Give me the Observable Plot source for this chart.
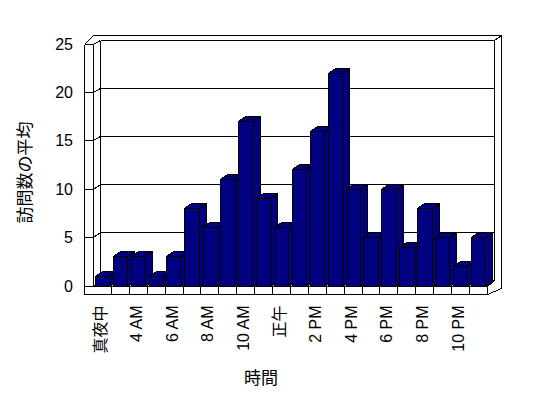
<!DOCTYPE html>
<html><head><meta charset="utf-8">
<script src="https://cdn.jsdelivr.net/npm/d3@7"></script>
<script src="https://cdn.jsdelivr.net/npm/@observablehq/plot@0.6"></script>
<style>body{margin:0;background:#fff}</style>
</head><body><div id="chart"></div>
<script>
// ---- data ----
const hours = ["真夜中","1 AM","4 AM","5 AM","6 AM","7 AM","8 AM","9 AM","10 AM","11 AM","正午","1 PM","2 PM","3 PM","4 PM","5 PM","6 PM","7 PM","8 PM","9 PM","10 PM","11 PM"];
const visits = [1,3,3,1,3,8,6,11,17,9,6,12,16,22,10,5,10,4,8,5,2,5];
const yTicks = [0,5,10,15,20,25];
const xTickLabels = ["真夜中","4 AM","6 AM","8 AM","10 AM","正午","2 PM","4 PM","6 PM","8 PM","10 PM"];
const yTitle = "訪問数の平均";
const xTitle = "時間";

// ---- 3D look parameters ----
const DX = 7.4, DY = 6;          // chart depth
const KB = 0.99;                  // perspective shrink of back wall
const WALL_T = 8.6, FLOOR_T = 8;  // wall/floor thickness
const BACK_TX = 7, BACK_TY = 4.5; // back wall thickness
const BAR_INSET = 1.9, BAR_W = 14.4, BAR_DX = 6.5, BAR_DY = 4.8;
const BAR_FILL = "#000080";

const px = v => Math.round(v - 0.5) + 0.5;

function frame3d(index, scales) {
  const {x, y} = scales;
  const bw = x(hours[1]) - x(hours[0]);
  const xL = x(hours[0]), xR = x(hours[hours.length - 1]) + bw;
  const y0 = y(0), yT = y(yTicks[yTicks.length - 1]);
  const yb = v => y0 - DY + (y(v) - y0) * KB;
  const segs = [];
  const L = (a, b, c, d) => segs.push([a, b, c, d]);
  const xo = xL - WALL_T;
  // floor front strip
  L(xo, yT, xo, y0 + FLOOR_T);
  L(xo, y0 + FLOOR_T, xR, y0 + FLOOR_T);
  L(xo, y0, xR, y0);
  L(xR, y0, xR, y0 + FLOOR_T);
  for (let k = 1; k < hours.length; k++) L(xL + k * bw, y0, xL + k * bw, y0 + FLOOR_T);
  // left wall thickness face
  L(xL, yT, xL, y0);
  L(xo, yT, xL, yT);
  yTicks.slice(1, -1).forEach(v => L(xo, y(v), xL, y(v)));
  // left wall inner plane
  yTicks.forEach(v => L(xL, y(v), xL + DX, yb(v)));
  L(xL + DX, yb(25), xL + DX, yb(0));
  // back wall gridlines + edges
  yTicks.forEach(v => L(xL + DX, yb(v), xR + DX, yb(v)));
  L(xR + DX, yb(25), xR + DX, yb(0));
  L(xR, y0, xR + DX, yb(0));
  // outer thickness of walls
  const oxL = xo + DX + 1.2, oyT = yb(25) - BACK_TY, oxR = xR + DX + BACK_TX;
  L(xo, yT, oxL, oyT);
  L(oxL, oyT, oxR, oyT);
  L(xR + DX, yb(25), oxR, oyT);
  L(oxR, oyT, oxR, y0 + 2);
  L(xR, y0 + FLOOR_T, oxR, y0 + 2);
  const g = d3.create("svg:g").attr("fill", "none").attr("stroke", "black")
    .attr("stroke-width", 1).attr("shape-rendering", "crispEdges");
  g.selectAll("line").data(segs).join("line")
    .attr("x1", d => px(d[0])).attr("y1", d => px(d[1]))
    .attr("x2", d => px(d[2])).attr("y2", d => px(d[3]));
  return g.node();
}

function bars3d(index, scales) {
  const {x, y} = scales;
  const g = d3.create("svg:g").attr("fill", BAR_FILL).attr("stroke", "black")
    .attr("stroke-width", 1).attr("stroke-linejoin", "miter").attr("shape-rendering", "crispEdges");
  const yb = px(y(0));
  visits.forEach((v, i) => {
    const x0 = px(x(hours[i]) + BAR_INSET), x1 = px(x(hours[i]) + BAR_INSET + BAR_W);
    const yt = px(y(v));
    const ddx = Math.round(BAR_DX), ddy = Math.round(BAR_DY);
    const pts = a => a.map(p => p.join(",")).join(" ");
    g.append("polygon").attr("points", pts([[x1, yb], [x1, yt], [x1 + ddx, yt - ddy], [x1 + ddx, yb - ddy]]));
    g.append("polygon").attr("points", pts([[x0, yt], [x1, yt], [x1 + ddx, yt - ddy], [x0 + ddx, yt - ddy]]));
    g.append("rect").attr("x", x0).attr("y", yt).attr("width", x1 - x0).attr("height", yb - yt);
  });
  return g.node();
}

const shown = new Set(xTickLabels);
const chart = Plot.plot({
  width: 548,
  height: 398,
  marginLeft: 93.5,
  marginRight: 60.7,
  marginTop: 44,
  marginBottom: 112,
  style: {fontFamily: "'Liberation Sans', Arial, 'Noto Sans CJK JP', sans-serif", fontSize: "16px", background: "white", color: "black"},
  x: {type: "band", domain: hours, padding: 0, round: false, label: null},
  y: {domain: [0, 25], label: null},
  marks: [
    frame3d,
    bars3d,
    Plot.axisY({ticks: yTicks, anchor: "left", tickSize: 0, tickPadding: 21, fontSize: 16, fill: "black", label: null}),
    Plot.axisX({ticks: xTickLabels, tickFormat: d => shown.has(d) ? d : "", tickRotate: -90, tickSize: 0, tickPadding: 19, fontSize: 16, fill: "black", label: null, dx: -2}),
    Plot.text([yTitle], {text: d => d, frameAnchor: "left", dx: -68, dy: 7, rotate: -90, textAnchor: "middle", lineAnchor: "middle", fontSize: 17, fill: "black"}),
    Plot.text([xTitle], {text: d => d, frameAnchor: "bottom", dx: -30, dy: 92, textAnchor: "middle", lineAnchor: "middle", fontSize: 17, fill: "black"})
  ]
});
document.getElementById("chart").appendChild(chart);
</script>
</body></html>
